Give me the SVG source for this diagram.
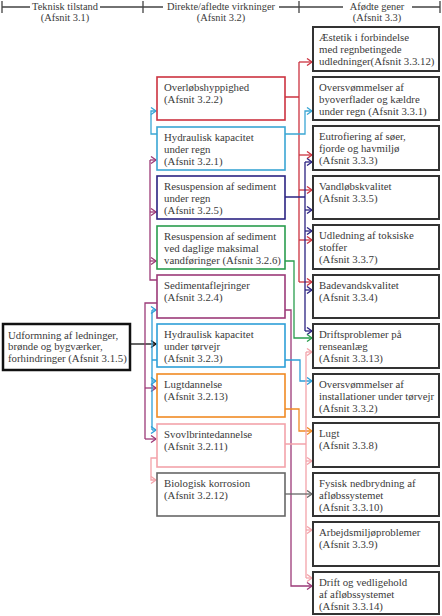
<svg xmlns="http://www.w3.org/2000/svg" width="442" height="616" viewBox="0 0 442 616">
<style>
text{font-family:"Liberation Serif","Times New Roman",serif;font-size:10.8px;fill:#3a3a3a}
.hd{text-anchor:middle;font-size:10.4px}
.hl{stroke:#444;stroke-width:1.3;fill:none}
.mb{fill:#fff;stroke-width:1.6}
.rb{fill:#fff;stroke:#333;stroke-width:2}
.c{fill:none;stroke-width:1.3}
.red{stroke:#cc3340}.lb{stroke:#3aa6d4}.nv{stroke:#2b2382}.gr{stroke:#2a9d4e}.pu{stroke:#9c3a78}.bl{stroke:#2e9fd8}.or{stroke:#f08a24}.pk{stroke:#f3a3aa}.gy{stroke:#676767}.bk{stroke:#111}
</style>
<defs>
<marker id="a-red" markerUnits="userSpaceOnUse" markerWidth="8" markerHeight="8" refX="6" refY="4" orient="auto"><path d="M1,0.5 L6,4 L1,7.5" fill="none" stroke="#cc3340" stroke-width="1.3"/></marker>
<marker id="a-lb" markerUnits="userSpaceOnUse" markerWidth="8" markerHeight="8" refX="6" refY="4" orient="auto"><path d="M1,0.5 L6,4 L1,7.5" fill="none" stroke="#3aa6d4" stroke-width="1.3"/></marker>
<marker id="a-nv" markerUnits="userSpaceOnUse" markerWidth="8" markerHeight="8" refX="6" refY="4" orient="auto"><path d="M1,0.5 L6,4 L1,7.5" fill="none" stroke="#2b2382" stroke-width="1.3"/></marker>
<marker id="a-gr" markerUnits="userSpaceOnUse" markerWidth="8" markerHeight="8" refX="6" refY="4" orient="auto"><path d="M1,0.5 L6,4 L1,7.5" fill="none" stroke="#2a9d4e" stroke-width="1.3"/></marker>
<marker id="a-pu" markerUnits="userSpaceOnUse" markerWidth="8" markerHeight="8" refX="6" refY="4" orient="auto"><path d="M1,0.5 L6,4 L1,7.5" fill="none" stroke="#9c3a78" stroke-width="1.3"/></marker>
<marker id="a-bl" markerUnits="userSpaceOnUse" markerWidth="8" markerHeight="8" refX="6" refY="4" orient="auto"><path d="M1,0.5 L6,4 L1,7.5" fill="none" stroke="#2e9fd8" stroke-width="1.3"/></marker>
<marker id="a-or" markerUnits="userSpaceOnUse" markerWidth="8" markerHeight="8" refX="6" refY="4" orient="auto"><path d="M1,0.5 L6,4 L1,7.5" fill="none" stroke="#f08a24" stroke-width="1.3"/></marker>
<marker id="a-pk" markerUnits="userSpaceOnUse" markerWidth="8" markerHeight="8" refX="6" refY="4" orient="auto"><path d="M1,0.5 L6,4 L1,7.5" fill="none" stroke="#f3a3aa" stroke-width="1.3"/></marker>
<marker id="a-gy" markerUnits="userSpaceOnUse" markerWidth="8" markerHeight="8" refX="6" refY="4" orient="auto"><path d="M1,0.5 L6,4 L1,7.5" fill="none" stroke="#676767" stroke-width="1.3"/></marker>
<marker id="a-bk" markerUnits="userSpaceOnUse" markerWidth="8" markerHeight="8" refX="6" refY="4" orient="auto"><path d="M1,0.5 L6,4 L1,7.5" fill="none" stroke="#111" stroke-width="1.3"/></marker>
</defs>
<rect width="442" height="616" fill="#fff"/>

<g id="header">
<path class="hl" d="M2,7 H30 M100,7 H163 M279,7 H343 M412,7 H440 M2,1 V13 M143,1 V13 M299,1 V13 M440,1 V13"/>
<text class="hd" x="65" y="9.5">Teknisk tilstand</text>
<text class="hd" x="65" y="20.8">(Afsnit 3.1)</text>
<text class="hd" x="221" y="9.5">Direkte/afledte virkninger</text>
<text class="hd" x="221" y="20.8">(Afsnit 3.2)</text>
<text class="hd" x="377" y="9.5">Afødte gener</text>
<text class="hd" x="377" y="20.8">(Afsnit 3.3)</text>
</g>

<g id="connectors">
<!-- left side -->
<path class="c bk" d="M130,344 H156" marker-end="url(#a-bk)"/>
<path class="c lb" d="M157,134 H151 V111 H156" marker-end="url(#a-lb)"/>
<path class="c pu" d="M157,280 H150 V160"/>
<path class="c pu" d="M150,160 H156" marker-end="url(#a-pu)"/>
<path class="c pu" d="M150,212 H156" marker-end="url(#a-pu)"/>
<path class="c pu" d="M150,261 H156" marker-end="url(#a-pu)"/>
<path class="c pu" d="M157,303 H145 V439"/>
<path class="c pu" d="M145,388 H156" marker-end="url(#a-pu)"/>
<path class="c pu" d="M145,439 H156" marker-end="url(#a-pu)"/>
<path class="c bl" d="M157,360 H152 M152,310 V430"/>
<path class="c bl" d="M152,310 H156" marker-end="url(#a-bl)"/>
<path class="c bl" d="M152,381 H156" marker-end="url(#a-bl)"/>
<path class="c bl" d="M152,430 H156" marker-end="url(#a-bl)"/>
<path class="c pk" d="M157,458 H151 V480 H156" marker-end="url(#a-pk)"/>
<!-- right side -->
<path class="c red" d="M285,97 H299 M299,62 V282"/>
<path class="c red" d="M299,62 H312" marker-end="url(#a-red)"/>
<path class="c red" d="M299,155 H312" marker-end="url(#a-red)"/>
<path class="c red" d="M299,190 H312" marker-end="url(#a-red)"/>
<path class="c red" d="M299,240 H312" marker-end="url(#a-red)"/>
<path class="c red" d="M299,282 H312" marker-end="url(#a-red)"/>
<path class="c lb" d="M285,134 H305 V111 H312" marker-end="url(#a-lb)"/>
<path class="c nv" d="M285,197 H305 M305,162 V331"/>
<path class="c nv" d="M305,162 H312" marker-end="url(#a-nv)"/>
<path class="c nv" d="M305,210 H312" marker-end="url(#a-nv)"/>
<path class="c nv" d="M305,231 H312" marker-end="url(#a-nv)"/>
<path class="c nv" d="M305,290 H312" marker-end="url(#a-nv)"/>
<path class="c nv" d="M305,331 H312" marker-end="url(#a-nv)"/>
<path class="c gr" d="M285,261 H294 V338 H312" marker-end="url(#a-gr)"/>
<path class="c pu" d="M285,310 H291 V586 H312" marker-end="url(#a-pu)"/>
<path class="c bl" d="M285,360 H300 V381 H312" marker-end="url(#a-bl)"/>
<path class="c or" d="M285,409 H299 V431 H312" marker-end="url(#a-or)"/>
<path class="c pk" d="M285,444 H306 M306,352 V578"/>
<path class="c pk" d="M306,352 H312" marker-end="url(#a-pk)"/>
<path class="c pk" d="M306,461 H312" marker-end="url(#a-pk)"/>
<path class="c pk" d="M306,530 H312" marker-end="url(#a-pk)"/>
<path class="c pk" d="M306,578 H312" marker-end="url(#a-pk)"/>
<path class="c gy" d="M285,494 H312" marker-end="url(#a-gy)"/>
</g>

<g id="n-udformning">
<rect x="3" y="324" width="127" height="46" fill="#fff" stroke="#111" stroke-width="2.5"/>
<text x="8" y="338.5">Udformning af ledninger,</text>
<text x="8" y="350">brønde og bygværker,</text>
<text x="8" y="361.5">forhindringer (Afsnit 3.1.5)</text>
</g>

<g id="n-overloeb"><rect class="mb red" x="157" y="77" width="128" height="43"/>
<text x="164" y="90.5">Overløbshyppighed</text><text x="164" y="102.5">(Afsnit 3.2.2)</text></g>
<g id="n-hyd-regn"><rect class="mb lb" x="157" y="127" width="128" height="43"/>
<text x="164" y="140.5">Hydraulisk kapacitet</text><text x="164" y="152.5">under regn</text><text x="164" y="164.5">(Afsnit 3.2.1)</text></g>
<g id="n-resusp-regn"><rect class="mb nv" x="157" y="176" width="128" height="43"/>
<text x="164" y="189.5">Resuspension af sediment</text><text x="164" y="201.5">under regn</text><text x="164" y="213.5">(Afsnit 3.2.5)</text></g>
<g id="n-resusp-dag"><rect class="mb gr" x="157" y="226" width="128" height="43"/>
<text x="164" y="239.5">Resuspension af sediment</text><text x="164" y="251.5">ved daglige maksimal</text><text x="164" y="263.5">vandføringer (Afsnit 3.2.6)</text></g>
<g id="n-sediment"><rect class="mb pu" x="157" y="275" width="128" height="43"/>
<text x="164" y="288.5">Sedimentaflejringer</text><text x="164" y="300.5">(Afsnit 3.2.4)</text></g>
<g id="n-hyd-toer"><rect class="mb bl" x="157" y="324" width="128" height="43"/>
<text x="164" y="337.5">Hydraulisk kapacitet</text><text x="164" y="349.5">under tørvejr</text><text x="164" y="361.5">(Afsnit 3.2.3)</text></g>
<g id="n-lugtdannelse"><rect class="mb or" x="157" y="374" width="128" height="43"/>
<text x="164" y="387.5">Lugtdannelse</text><text x="164" y="399.5">(Afsnit 3.2.13)</text></g>
<g id="n-svovl"><rect class="mb pk" x="157" y="424" width="128" height="43"/>
<text x="164" y="437.5">Svovlbrintedannelse</text><text x="164" y="449.5">(Afsnit 3.2.11)</text></g>
<g id="n-korrosion"><rect class="mb gy" x="157" y="473" width="128" height="43"/>
<text x="164" y="486.5">Biologisk korrosion</text><text x="164" y="498.5">(Afsnit 3.2.12)</text></g>

<g id="r-aestetik"><rect class="rb" x="313" y="27" width="126" height="44"/>
<text x="319" y="40.5">Æstetik i forbindelse</text><text x="319" y="52.5">med regnbetingede</text><text x="319" y="64.5">udledninger(Afsnit 3.3.12)</text></g>
<g id="r-oversv-by"><rect class="rb" x="313" y="77" width="126" height="43"/>
<text x="319" y="90.5">Oversvømmelser af</text><text x="319" y="102.5">byoverflader og kældre</text><text x="319" y="114.5">under regn (Afsnit 3.3.1)</text></g>
<g id="r-eutrof"><rect class="rb" x="313" y="126" width="126" height="44"/>
<text x="319" y="139.5">Eutrofiering af søer,</text><text x="319" y="151.5">fjorde og havmiljø</text><text x="319" y="163.5">(Afsnit 3.3.3)</text></g>
<g id="r-vandloeb"><rect class="rb" x="313" y="176" width="126" height="43"/>
<text x="319" y="189.5">Vandløbskvalitet</text><text x="319" y="201.5">(Afsnit 3.3.5)</text></g>
<g id="r-toksisk"><rect class="rb" x="313" y="225" width="126" height="44"/>
<text x="319" y="238.5">Udledning af toksiske</text><text x="319" y="250.5">stoffer</text><text x="319" y="262.5">(Afsnit 3.3.7)</text></g>
<g id="r-badevand"><rect class="rb" x="313" y="275" width="126" height="43"/>
<text x="319" y="288.5">Badevandskvalitet</text><text x="319" y="300.5">(Afsnit 3.3.4)</text></g>
<g id="r-drift-rens"><rect class="rb" x="313" y="324" width="126" height="44"/>
<text x="319" y="337.5">Driftsproblemer på</text><text x="319" y="349.5">renseanlæg</text><text x="319" y="361.5">(Afsnit 3.3.13)</text></g>
<g id="r-oversv-inst"><rect class="rb" x="313" y="374" width="126" height="43"/>
<text x="319" y="387.5">Oversvømmelser af</text><text x="319" y="399.5">installationer under tørvejr</text><text x="319" y="411.5">(Afsnit 3.3.2)</text></g>
<g id="r-lugt"><rect class="rb" x="313" y="423" width="126" height="44"/>
<text x="319" y="436.5">Lugt</text><text x="319" y="448.5">(Afsnit 3.3.8)</text></g>
<g id="r-fysisk"><rect class="rb" x="313" y="473" width="126" height="43"/>
<text x="319" y="486.5">Fysisk nedbrydning af</text><text x="319" y="498.5">afløbssystemet</text><text x="319" y="510.5">(Afsnit 3.3.10)</text></g>
<g id="r-arbejdsmiljoe"><rect class="rb" x="313" y="522" width="126" height="44"/>
<text x="319" y="535.5">Arbejdsmiljøproblemer</text><text x="319" y="547.5">(Afsnit 3.3.9)</text></g>
<g id="r-drift-vedl"><rect class="rb" x="313" y="572" width="126" height="42"/>
<text x="319" y="585.5">Drift og vedligehold</text><text x="319" y="597.5">af afløbssystemet</text><text x="319" y="609.5">(Afsnit 3.3.14)</text></g>
</svg>
